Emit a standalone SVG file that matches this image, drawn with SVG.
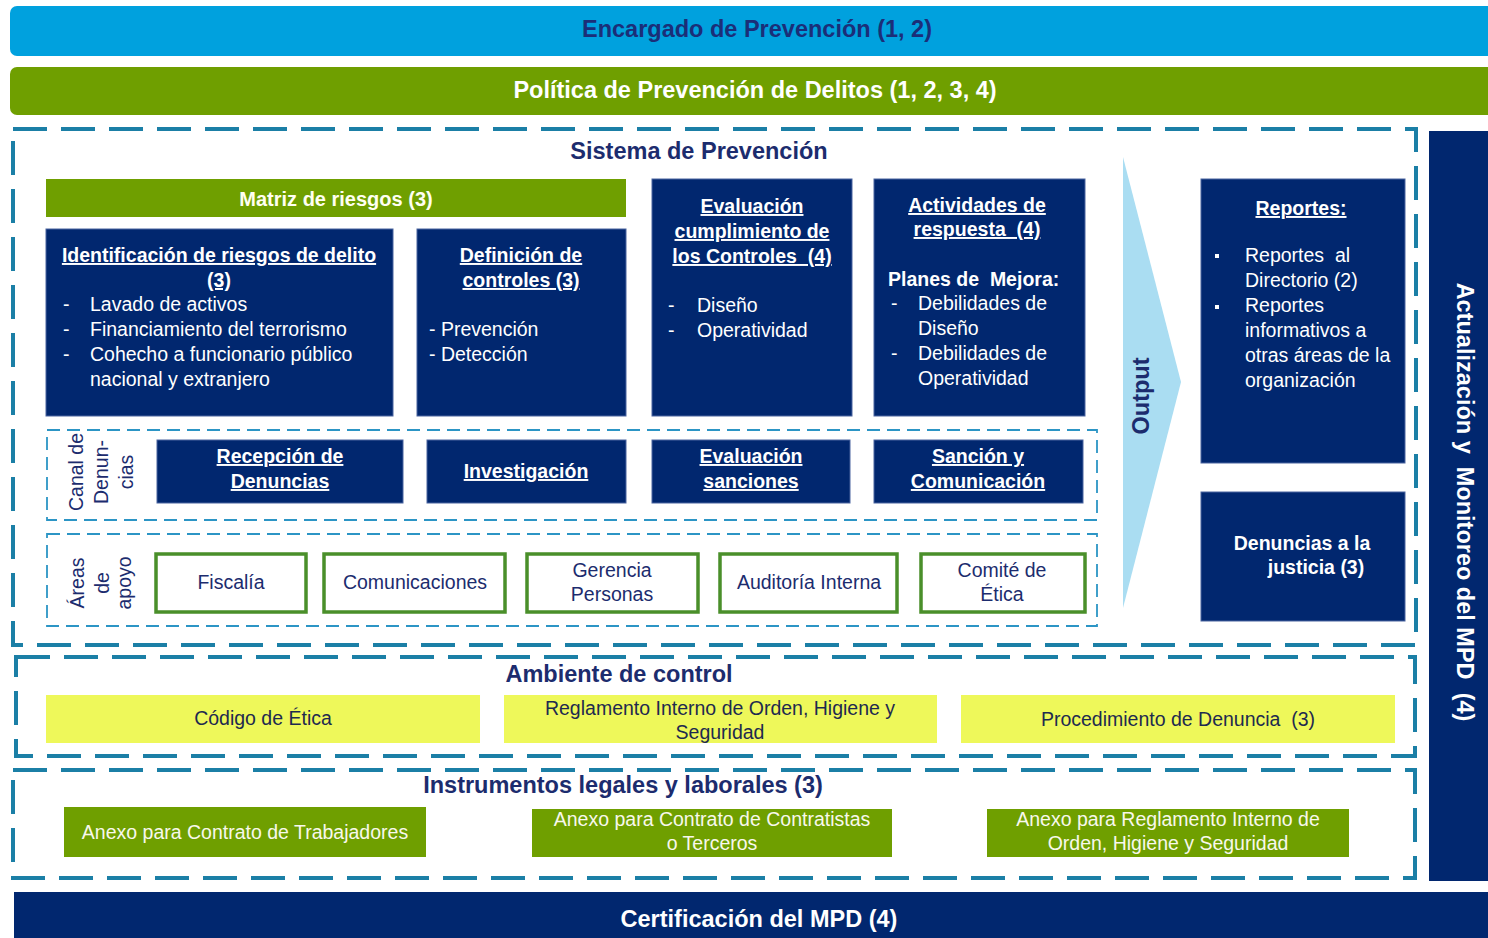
<svg xmlns="http://www.w3.org/2000/svg" width="1488" height="938" viewBox="0 0 1488 938">
<style>
text{font-family:"Liberation Sans",Arial,sans-serif}
.nb{fill:#01276F;stroke:#4A64A0;stroke-width:1}
.w{fill:#FFFFFF}
.n{fill:#1C2C6E}
.dk{fill:#1E2A4F}
.b{font-weight:bold}
.u{text-decoration:underline}
.s195{font-size:19.5px}
.s20{font-size:20px}
.s235{font-size:23.5px}
.c{text-anchor:middle}
.pre{white-space:pre}
.dash{fill:none;stroke:#1B7FA6;stroke-width:4;stroke-dasharray:34 14}
.tdash{fill:none;stroke:#2C95C5;stroke-width:1.8;stroke-dasharray:13 7}
.gbox{fill:#FFFFFF;stroke:#4A8F2A;stroke-width:3.5}
.yb{fill:#EEF85A}
.gr{fill:#6F9F00}
</style>

<!-- top bars -->
<g id="encargado">
<rect x="10" y="6" width="1500" height="50" rx="7" fill="#00A1DE"/>
<text x="757" y="37" class="c b s235" fill="#1B2E78">Encargado de Prevención (1, 2)</text>
</g>
<g id="politica">
<rect x="10" y="67" width="1500" height="48" rx="7" fill="#6F9F00"/>
<text x="755" y="98" class="c b s235 w">Política de Prevención de Delitos (1, 2, 3, 4)</text>
</g>

<!-- Sistema de Prevención container -->
<g id="sistema">
<rect x="13" y="129" width="1403" height="516" class="dash"/>
<text x="699" y="159" class="c b s235 n">Sistema de Prevención</text>
</g>

<g id="matriz">
<rect x="46" y="179" width="580" height="38" fill="#6F9F00"/>
<text x="336" y="206" class="c b s20" fill="#FFFFF2">Matriz de riesgos (3)</text>
</g>

<g id="identificacion">
<rect x="46" y="229" width="347" height="187" class="nb"/>
<text x="219" y="262" class="c b u s195 w">Identificación de riesgos de delito</text>
<text x="219" y="287" class="c b u s195 w">(3)</text>
<text x="63" y="311" class="s195 w">-</text><text x="90" y="311" class="s195 w">Lavado de activos</text>
<text x="63" y="336" class="s195 w">-</text><text x="90" y="336" class="s195 w">Financiamiento del terrorismo</text>
<text x="63" y="361" class="s195 w">-</text><text x="90" y="361" class="s195 w">Cohecho a funcionario público</text>
<text x="90" y="386" class="s195 w">nacional y extranjero</text>
</g>

<g id="definicion">
<rect x="417" y="229" width="209" height="187" class="nb"/>
<text x="521" y="262" class="c b u s195 w">Definición de</text>
<text x="521" y="287" class="c b u s195 w">controles (3)</text>
<text x="429" y="336" class="s195 w">- Prevención</text>
<text x="429" y="361" class="s195 w">- Detección</text>
</g>

<g id="evaluacion">
<rect x="652" y="179" width="200" height="237" class="nb"/>
<text x="752" y="213" class="c b u s195 w">Evaluación</text>
<text x="752" y="238" class="c b u s195 w">cumplimiento de</text>
<text x="752" y="263" class="c b u s195 w pre">los Controles  (4)</text>
<text x="668" y="312" class="s195 w">-</text><text x="697" y="312" class="s195 w">Diseño</text>
<text x="668" y="337" class="s195 w">-</text><text x="697" y="337" class="s195 w">Operatividad</text>
</g>

<g id="actividades">
<rect x="874" y="179" width="211" height="237" class="nb"/>
<text x="977" y="212" class="c b u s195 w">Actividades de</text>
<text x="977" y="236" class="c b u s195 w pre">respuesta  (4)</text>
<text x="888" y="286" class="b s195 w pre">Planes de  Mejora:</text>
<text x="891" y="310" class="s195 w">-</text><text x="918" y="310" class="s195 w">Debilidades de</text>
<text x="918" y="335" class="s195 w">Diseño</text>
<text x="891" y="360" class="s195 w">-</text><text x="918" y="360" class="s195 w">Debilidades de</text>
<text x="918" y="385" class="s195 w">Operatividad</text>
</g>

<!-- Canal de denuncias -->
<g id="canal">
<rect x="47" y="430" width="1050" height="90" class="tdash"/>
<g class="s195 n c">
<text transform="translate(83,472) rotate(-90)">Canal de</text>
<text transform="translate(108,472) rotate(-90)">Denun-</text>
<text transform="translate(133,472) rotate(-90)">cias</text>
</g>
</g>
<g id="recepcion">
<rect x="157" y="440" width="246" height="63" class="nb"/>
<text x="280" y="463" class="c b u s195 w">Recepción de</text>
<text x="280" y="488" class="c b u s195 w">Denuncias</text>
</g>
<g id="investigacion">
<rect x="427" y="440" width="199" height="63" class="nb"/>
<text x="526" y="478" class="c b u s195 w">Investigación</text>
</g>
<g id="evaluacion-sanciones">
<rect x="652" y="440" width="198" height="63" class="nb"/>
<text x="751" y="463" class="c b u s195 w">Evaluación</text>
<text x="751" y="488" class="c b u s195 w">sanciones</text>
</g>
<g id="sancion">
<rect x="874" y="440" width="209" height="63" class="nb"/>
<text x="978" y="463" class="c b u s195 w">Sanción y</text>
<text x="978" y="488" class="c b u s195 w">Comunicación</text>
</g>

<!-- Áreas de apoyo -->
<g id="areas">
<rect x="47" y="534" width="1050" height="92" class="tdash"/>
<g class="s195 n c">
<text transform="translate(84,583) rotate(-90)">Áreas</text>
<text transform="translate(109,583) rotate(-90)">de</text>
<text transform="translate(131,583) rotate(-90)">apoyo</text>
</g>
</g>
<g id="fiscalia">
<rect x="156" y="554" width="150" height="58" class="gbox"/>
<text x="231" y="589" class="c s195 n">Fiscalía</text>
</g>
<g id="comunicaciones">
<rect x="324" y="554" width="181" height="58" class="gbox"/>
<text x="415" y="589" class="c s195 n">Comunicaciones</text>
</g>
<g id="gerencia">
<rect x="527" y="554" width="171" height="58" class="gbox"/>
<text x="612" y="577" class="c s195 n">Gerencia</text>
<text x="612" y="601" class="c s195 n">Personas</text>
</g>
<g id="auditoria">
<rect x="720" y="554" width="177" height="58" class="gbox"/>
<text x="809" y="589" class="c s195 n">Auditoría Interna</text>
</g>
<g id="comite">
<rect x="921" y="554" width="164" height="58" class="gbox"/>
<text x="1002" y="577" class="c s195 n">Comité de</text>
<text x="1002" y="601" class="c s195 n">Ética</text>
</g>

<!-- Output arrow -->
<g id="output">
<polygon points="1123,157 1181,382 1123,608" fill="#AADDF2"/>
<text transform="translate(1149,396) rotate(-90)" class="c b s235 n">Output</text>
</g>

<g id="reportes">
<rect x="1201" y="179" width="204" height="284" class="nb"/>
<text x="1301" y="215" class="c b u s195 w">Reportes:</text>
<rect x="1215" y="254" width="4" height="4" fill="#FFFFFF"/>
<text x="1245" y="262" class="s195 w pre">Reportes  al</text>
<text x="1245" y="287" class="s195 w">Directorio (2)</text>
<rect x="1215" y="305" width="4" height="4" fill="#FFFFFF"/>
<text x="1245" y="312" class="s195 w">Reportes</text>
<text x="1245" y="337" class="s195 w">informativos a</text>
<text x="1245" y="362" class="s195 w">otras áreas de la</text>
<text x="1245" y="387" class="s195 w">organización</text>
</g>

<g id="denuncias-justicia">
<rect x="1201" y="492" width="204" height="129" class="nb"/>
<text x="1302" y="550" class="c b s195 w">Denuncias a la</text>
<text x="1316" y="574" class="c b s195 w">justicia (3)</text>
</g>

<!-- Ambiente de control -->
<g id="ambiente">
<rect x="16" y="657" width="1399" height="99" class="dash"/>
<text x="619" y="682" class="c b s235 n">Ambiente de control</text>
</g>
<g id="codigo">
<rect x="46" y="695" width="434" height="48" class="yb"/>
<text x="263" y="725" class="c s195 dk">Código de Ética</text>
</g>
<g id="reglamento">
<rect x="504" y="695" width="433" height="48" class="yb"/>
<text x="720" y="715" class="c s195 dk">Reglamento Interno de Orden, Higiene y</text>
<text x="720" y="739" class="c s195 dk">Seguridad</text>
</g>
<g id="procedimiento">
<rect x="961" y="695" width="434" height="48" class="yb"/>
<text x="1178" y="726" class="c s195 dk pre">Procedimiento de Denuncia  (3)</text>
</g>

<!-- Instrumentos legales -->
<g id="instrumentos">
<rect x="13" y="770" width="1402" height="108" class="dash"/>
<text x="623" y="793" class="c b s235 n">Instrumentos legales y laborales (3)</text>
</g>
<g id="anexo-trabajadores">
<rect x="64" y="807" width="362" height="50" class="gr"/>
<text x="245" y="839" class="c s195" fill="#F8F8EC">Anexo para Contrato de Trabajadores</text>
</g>
<g id="anexo-contratistas">
<rect x="532" y="809" width="360" height="48" class="gr"/>
<text x="712" y="826" class="c s195" fill="#F8F8EC">Anexo para Contrato de Contratistas</text>
<text x="712" y="850" class="c s195" fill="#F8F8EC">o Terceros</text>
</g>
<g id="anexo-reglamento">
<rect x="987" y="809" width="362" height="48" class="gr"/>
<text x="1168" y="826" class="c s195" fill="#F8F8EC">Anexo para Reglamento Interno de</text>
<text x="1168" y="850" class="c s195" fill="#F8F8EC">Orden, Higiene y Seguridad</text>
</g>

<!-- right vertical bar -->
<g id="actualizacion">
<rect x="1429" y="131" width="80" height="750" fill="#01276F"/>
<text transform="translate(1457,502) rotate(90)" class="c b s235 w pre">Actualización y  Monitoreo del MPD  (4)</text>
</g>

<!-- bottom bar -->
<g id="certificacion">
<rect x="14" y="892" width="1500" height="60" fill="#01276F"/>
<text x="759" y="927" class="c b s235 w">Certificación del MPD (4)</text>
</g>

<g id="connectors"></g>
</svg>
